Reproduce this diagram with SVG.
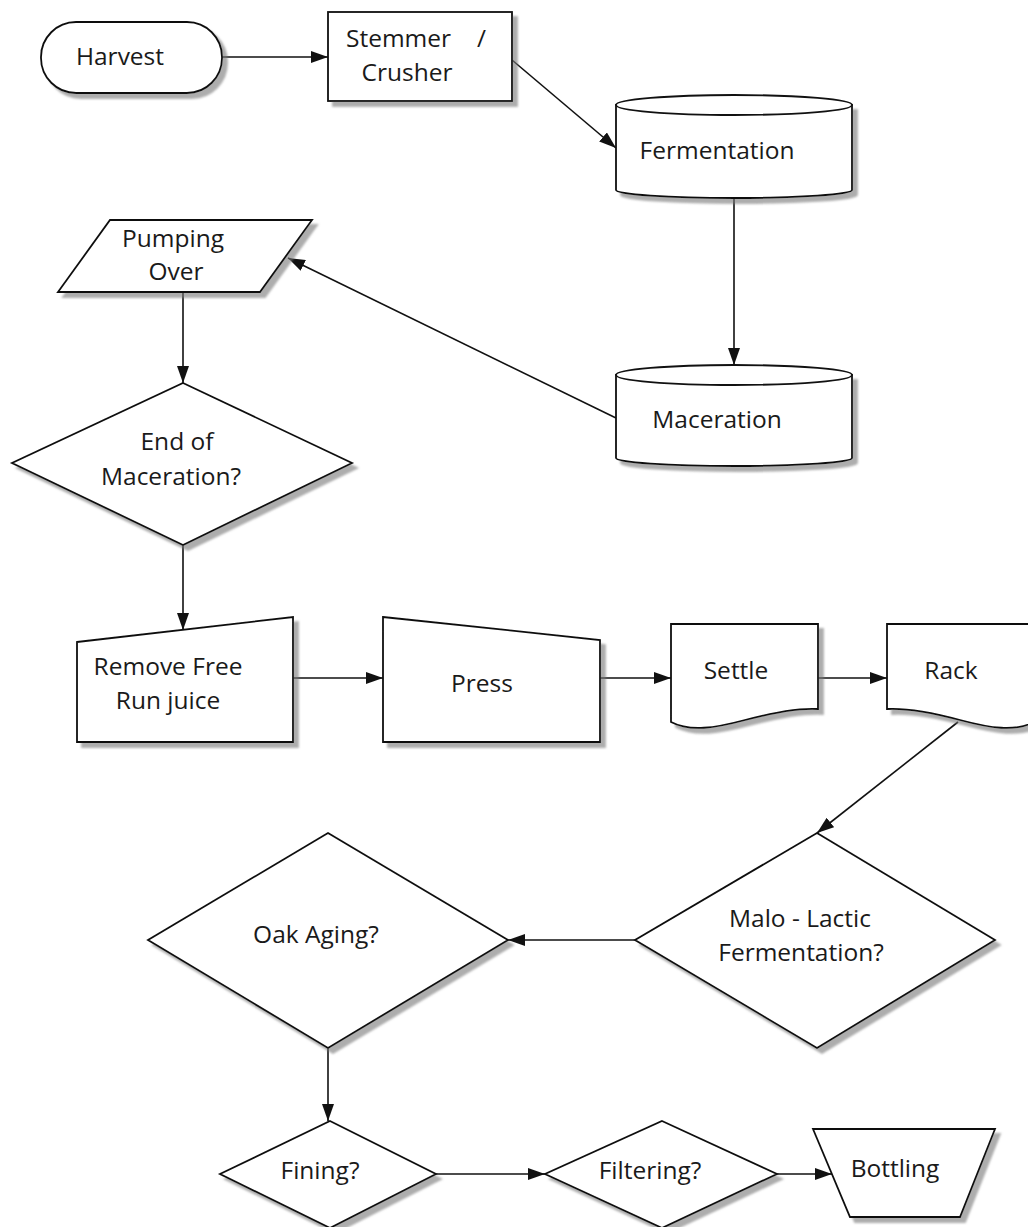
<svg xmlns="http://www.w3.org/2000/svg" width="1028" height="1227" viewBox="0 0 1028 1227">
<style>
.n{fill:#fff;stroke:#111;stroke-width:1.8;filter:url(#sh)}
.t{font-family:"Open Sans","DejaVu Sans",sans-serif;font-size:24.5px;fill:#1a1a1a;text-anchor:middle}
.c{fill:none;stroke:#111;stroke-width:1.6;marker-end:url(#ah)}
</style>
<defs>
<filter id="sh" x="-10%" y="-10%" width="130%" height="130%">
<feDropShadow dx="5" dy="5" stdDeviation="1.2" flood-color="#777" flood-opacity="0.6"/>
</filter>
<marker id="ah" markerUnits="userSpaceOnUse" markerWidth="17" markerHeight="12" refX="17" refY="6" orient="auto">
<path d="M0,0 L17,6 L0,12 Z" fill="#111"/>
</marker>
</defs>
<rect width="1028" height="1227" fill="#fff"/>

<g id="connectors">
<path class="c" d="M222,57 H328"/>
<path class="c" d="M512,60 L616,148"/>
<path class="c" d="M734,198 V365"/>
<path class="c" d="M616,418 L288,258"/>
<path class="c" d="M183,292 V383"/>
<path class="c" d="M183,545 V630"/>
<path class="c" d="M293,678 H383"/>
<path class="c" d="M600,678 H671"/>
<path class="c" d="M818,678 H887"/>
<path class="c" d="M958,722 L817,833"/>
<path class="c" d="M635,940 H508"/>
<path class="c" d="M328,1048 V1121"/>
<path class="c" d="M436,1174 H545"/>
<path class="c" d="M777,1174 H832"/>
</g>

<g id="harvest">
<rect class="n" x="41" y="22" width="181" height="71" rx="35" ry="35"/>
<text class="t" x="120" y="65">Harvest</text>
</g>

<g id="stemmer">
<rect class="n" x="328" y="12" width="184" height="89"/>
<text class="t" style="text-anchor:start"><tspan x="346" y="47">Stemmer</tspan><tspan x="477" y="47">/</tspan></text>
<text class="t" x="407" y="81">Crusher</text>
</g>

<g id="fermentation">
<path class="n" d="M616,105 V190 A118,8 0 0 0 852,190 V105 Z"/>
<ellipse cx="734" cy="105" rx="118" ry="10" fill="#fff" stroke="#111" stroke-width="1.8"/>
<text class="t" x="717" y="159">Fermentation</text>
</g>

<g id="maceration">
<path class="n" d="M616,375 V458 A118,8 0 0 0 852,458 V375 Z"/>
<ellipse cx="734" cy="375" rx="118" ry="10" fill="#fff" stroke="#111" stroke-width="1.8"/>
<text class="t" x="717" y="428">Maceration</text>
</g>

<g id="pumping">
<polygon class="n" points="110,220 312,220 260,292 58,292"/>
<text class="t" x="173" y="247">Pumping</text>
<text class="t" x="176" y="280">Over</text>
</g>

<g id="endmac">
<polygon class="n" points="183,383 352,463 183,545 12,463"/>
<text class="t" x="177" y="450">End of</text>
<text class="t" x="171" y="485">Maceration?</text>
</g>

<g id="remove">
<polygon class="n" points="77,642 293,617 293,742 77,742"/>
<text class="t" x="168" y="675">Remove Free</text>
<text class="t" x="168" y="709">Run juice</text>
</g>

<g id="press">
<polygon class="n" points="383,617 600,640 600,742 383,742"/>
<text class="t" x="482" y="692">Press</text>
</g>

<g id="settle">
<path class="n" d="M671,624 H818 V709 C800,708 775,712 745,720 C715,728 690,732 671,722 Z"/>
<text class="t" x="736" y="679">Settle</text>
</g>

<g id="rack">
<path class="n" d="M887,624 H1034 V722 C1015,732 990,728 960,720 C930,712 905,708 887,709 Z"/>
<text class="t" x="951" y="679">Rack</text>
</g>

<g id="malo">
<polygon class="n" points="817,833 995,940 817,1048 635,940"/>
<text class="t" x="800" y="927">Malo - Lactic</text>
<text class="t" x="801" y="961">Fermentation?</text>
</g>

<g id="oak">
<polygon class="n" points="328,833 508,940 328,1048 148,940"/>
<text class="t" x="316" y="943">Oak Aging?</text>
</g>

<g id="fining">
<polygon class="n" points="330,1121 436,1174 330,1228 220,1174"/>
<text class="t" x="320" y="1179">Fining?</text>
</g>

<g id="filtering">
<polygon class="n" points="662,1121 777,1174 662,1228 545,1174"/>
<text class="t" x="650" y="1179">Filtering?</text>
</g>

<g id="bottling">
<polygon class="n" points="813,1129 995,1129 960,1217 850,1217"/>
<text class="t" x="895" y="1177">Bottling</text>
</g>
</svg>
